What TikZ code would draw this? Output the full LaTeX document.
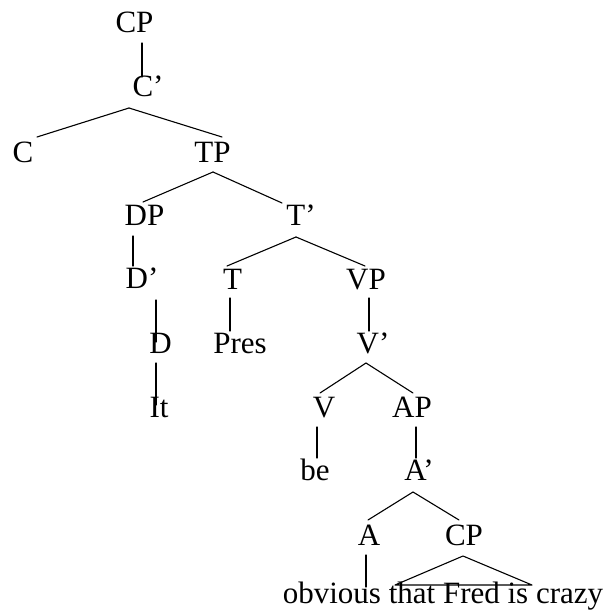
\documentclass[tikz,border=0pt]{standalone}
\usepackage{fontspec}
\setmainfont{Liberation Serif}
\begin{document}
\begin{tikzpicture}[x=1pt,y=-1pt,
  lbl/.style={inner sep=0pt, anchor=base, font=\fontsize{31}{37}\selectfont},
  edge/.style={line width=1.1pt, line cap=round}]
\useasboundingbox (0,0) rectangle (610,615);
\node[lbl] (cp)   at (134.5,33) {CP};
\node[lbl] (cbar) at (148,97)   {C’};
\node[lbl] (c)    at (23,162)   {C};
\node[lbl] (tp)   at (212.5,162) {TP};
\node[lbl] (dp)   at (144.5,225) {DP};
\node[lbl] (tbar) at (301,225)  {T’};
\node[lbl] (dbar) at (142,288)  {D’};
\node[lbl] (t)    at (232.5,289) {T};
\node[lbl] (vp)   at (366,289)  {VP};
\node[lbl] (d)    at (160.5,353) {D};
\node[lbl] (pres) at (240,353)  {Pres};
\node[lbl] (vbar) at (373,353)  {V’};
\node[lbl] (it)   at (159,417)  {It};
\node[lbl] (v)    at (324,417)  {V};
\node[lbl] (ap)   at (412,417)  {AP};
\node[lbl] (be)   at (315,480)  {be};
\node[lbl] (abar) at (419,480)  {A’};
\node[lbl] (a)    at (369,545)  {A};
\node[lbl] (cpb)  at (464,545)  {CP};
\node[lbl] (txt)  at (443,603)  {obvious that Fred is crazy};
\draw[edge] ([shift={(7.5,10)}]cp.base) -- ([shift={(-6,-20)}]cbar.base);
\draw[edge] ([shift={(-19,11)}]cbar.base) -- ([shift={(14,-25)}]c.base);
\draw[edge] ([shift={(-19,11)}]cbar.base) -- ([shift={(9.5,-25)}]tp.base);
\draw[edge] ([shift={(0.5,10)}]tp.base) -- ([shift={(-1.5,-23)}]dp.base);
\draw[edge] ([shift={(0.5,10)}]tp.base) -- ([shift={(-19,-22)}]tbar.base);
\draw[edge] ([shift={(-11.5,11)}]dp.base) -- ([shift={(-9,-22)}]dbar.base);
\draw[edge] ([shift={(-5,12)}]tbar.base) -- ([shift={(-5.5,-23)}]t.base);
\draw[edge] ([shift={(-5,12)}]tbar.base) -- ([shift={(-1,-23)}]vp.base);
\draw[edge] ([shift={(14,12)}]dbar.base) -- ([shift={(-4.5,-11)}]d.base);
\draw[edge] ([shift={(-2.5,9)}]t.base) -- ([shift={(-10,-22)}]pres.base);
\draw[edge] ([shift={(3,9)}]vp.base) -- ([shift={(-4,-22)}]vbar.base);
\draw[edge] ([shift={(-4.5,10)}]d.base) -- ([shift={(-3,-12)}]it.base);
\draw[edge] ([shift={(-7,10)}]vbar.base) -- ([shift={(-4,-24)}]v.base);
\draw[edge] ([shift={(-7,10)}]vbar.base) -- ([shift={(1,-24)}]ap.base);
\draw[edge] ([shift={(-7,10)}]v.base) -- ([shift={(2,-22)}]be.base);
\draw[edge] ([shift={(4,10)}]ap.base) -- ([shift={(-3,-22)}]abar.base);
\draw[edge] ([shift={(-6,12)}]abar.base) -- ([shift={(-1,-25)}]a.base);
\draw[edge] ([shift={(-6,12)}]abar.base) -- ([shift={(-5,-25)}]cpb.base);
\draw[edge] ([shift={(-3,10)}]a.base) -- ([shift={(-77,-16)}]txt.base);
\draw[edge, line join=round] ([shift={(-1,11)}]cpb.base) -- ([shift={(-48,-18)}]txt.base) -- ([shift={(89,-18)}]txt.base) -- cycle;
\end{tikzpicture}
\end{document}
